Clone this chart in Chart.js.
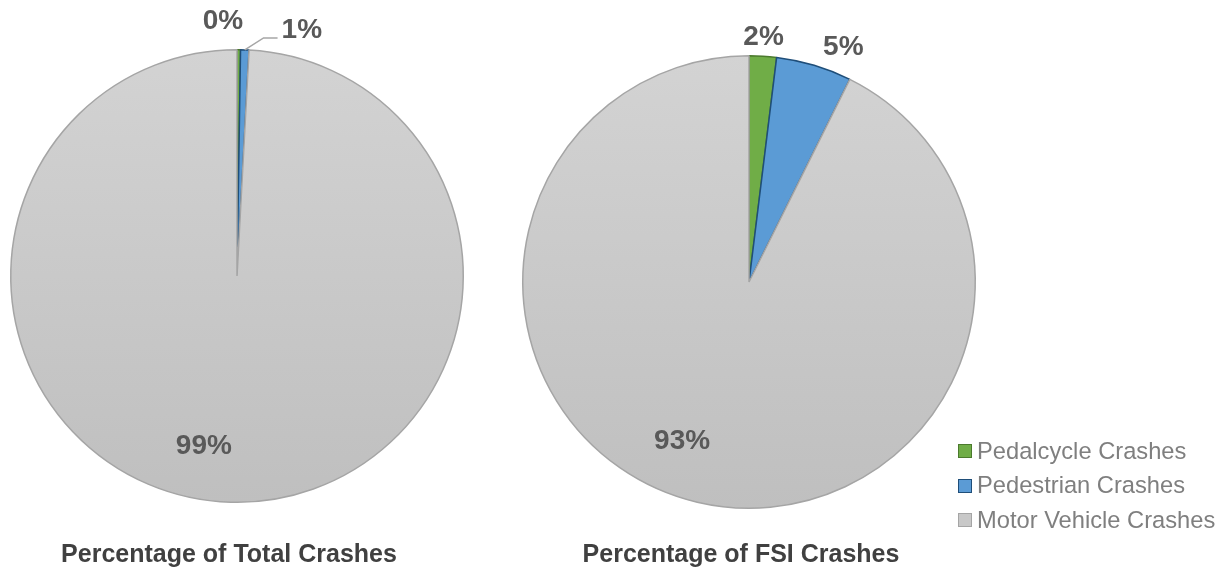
<!DOCTYPE html>
<html>
<head>
<meta charset="utf-8">
<script src="https://cdn.jsdelivr.net/npm/chart.js@4.4.1/dist/chart.umd.min.js"></script>
<style>
    body { margin: 0; background: #fff; }
    #wrap { position: relative; width: 1228px; height: 569px; overflow: hidden; font-family: "Liberation Sans", Arial, sans-serif; }
    canvas { position: absolute; left: 0; top: 0; }
    .title { position: absolute; top: 541px; font-size: 25px; line-height: 25px; font-weight: bold; color: #404040; transform: translateX(-50%); white-space: nowrap; }
    #legend { position: absolute; left: 958px; top: 434px; }
    .item { display: flex; align-items: center; height: 34.5px; font-size: 23.7px; color: #7f7f7f; white-space: nowrap; }
    .box { width: 12px; height: 12px; border: 1px solid; margin-right: 5px; }
</style>
</head>
<body>
<div id="wrap">
    <canvas id="total-chart" width="1228" height="569"></canvas>
    <canvas id="fsi-chart" width="1228" height="569"></canvas>
    <div class="title" id="title-total" style="left: 229px;"></div>
    <div class="title" id="title-fsi" style="left: 741px;"></div>
    <div id="legend"></div>
</div>
<script>
const categories = ['Pedalcycle Crashes', 'Pedestrian Crashes', 'Motor Vehicle Crashes'];
const totalShare = [0.25, 0.6, 99.15];
const fsiShare = [1.95, 5.4, 92.65];
const chartTitles = ['Percentage of Total Crashes', 'Percentage of FSI Crashes'];

const fillColors = ['#70ad47', '#5b9bd5', '#c8c8c8'];
const edgeColors = ['#4b7a2d', '#1f4e79', '#a5a5a5'];

function sliceFill(context) {
    const i = context.dataIndex;
    if (i !== 2) return fillColors[i];
    const area = context.chart.chartArea;
    if (!area) return fillColors[i];
    const g = context.chart.ctx.createLinearGradient(0, area.top, 0, area.bottom);
    g.addColorStop(0, '#d3d3d3');
    g.addColorStop(1, '#bfbfbf');
    return g;
}

// percentage labels, Excel style: big slice inside, small ones outside
const sliceLabels = {
    id: 'sliceLabels',
    afterDatasetsDraw(chart, args, opts) {
        const ctx = chart.ctx;
        const meta = chart.getDatasetMeta(0);
        const values = chart.data.datasets[0].data;
        const total = values.reduce((a, b) => a + b, 0);
        ctx.save();
        ctx.font = 'bold 28px "Liberation Sans", Arial, sans-serif';
        ctx.fillStyle = '#595959';
        ctx.textAlign = 'center';
        ctx.textBaseline = 'middle';
        meta.data.forEach((arc, i) => {
            const p = arc.getProps(['x', 'y', 'startAngle', 'endAngle', 'outerRadius'], true);
            const share = values[i] / total;
            const text = Math.round(share * 100) + '%';
            let mid = (p.startAngle + p.endAngle) / 2;
            let lx, ly;
            if (share > 0.5) {
                mid += opts.insideShift;
                lx = p.x + Math.cos(mid) * p.outerRadius * opts.insideRadius;
                ly = p.y + Math.sin(mid) * p.outerRadius * opts.insideRadius;
            } else {
                const w = ctx.measureText(text).width;
                const dx = Math.cos(mid), dy = Math.sin(mid);
                const r = p.outerRadius + opts.gap;
                const nudge = opts.nudges[i] || [0, 0];
                lx = p.x + dx * r + dx * w / 2 + nudge[0];
                ly = p.y + dy * r + dy * 10 + nudge[1];
                if (Math.hypot(nudge[0], nudge[1]) > 30) {
                    const sx = p.x + dx * p.outerRadius, sy = p.y + dy * p.outerRadius;
                    const ex = lx - w / 2 - 4, ey = ly + 8;
                    ctx.save();
                    ctx.strokeStyle = '#a6a6a6';
                    ctx.lineWidth = 1.5;
                    ctx.beginPath();
                    ctx.moveTo(sx, sy);
                    ctx.lineTo(ex - 14, ey);
                    ctx.lineTo(ex, ey);
                    ctx.stroke();
                    ctx.restore();
                }
            }
            ctx.fillText(text, lx, ly);
        });
        ctx.restore();
    }
};

function makePie(canvasId, values, padding, nudges) {
    return new Chart(document.getElementById(canvasId), {
        type: 'pie',
        data: {
            labels: categories,
            datasets: [{
                data: values,
                backgroundColor: sliceFill,
                borderColor: edgeColors,
                borderWidth: 1.5
            }]
        },
        options: {
            responsive: false,
            animation: false,
            layout: { padding: padding },
            plugins: {
                legend: { display: false },
                tooltip: { enabled: false },
                sliceLabels: { gap: 8, insideRadius: 0.765, insideShift: 9.5 * Math.PI / 180, nudges: nudges }
            }
        },
        plugins: [sliceLabels]
    });
}

makePie('total-chart', totalShare, { left: 10, top: 49, right: 764, bottom: 66 }, [[-16, -10], [56, -2], [0, 0]]);
makePie('fsi-chart', fsiShare, { left: 522, top: 55, right: 252, bottom: 60 }, [[-1, -1], [21, -1], [0, 0]]);

document.getElementById('title-total').textContent = chartTitles[0];
document.getElementById('title-fsi').textContent = chartTitles[1];

const legend = document.getElementById('legend');
categories.forEach((name, i) => {
    const row = document.createElement('div');
    row.className = 'item';
    row.innerHTML = `<span class="box" style="background:${fillColors[i]};border-color:${edgeColors[i]}"></span>${name}`;
    legend.appendChild(row);
});
</script>
</body>
</html>
